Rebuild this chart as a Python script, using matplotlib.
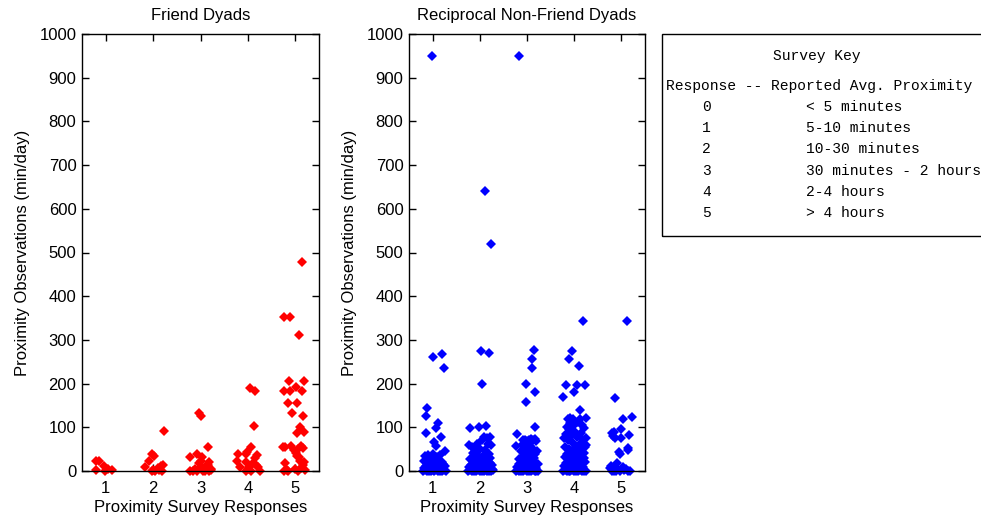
import matplotlib
matplotlib.use("Agg")
import matplotlib.pyplot as plt
from matplotlib.patches import Rectangle

plt.rcParams['font.family'] = ['Liberation Sans', 'DejaVu Sans']

# ---------------- data ----------------
categories = [1, 2, 3, 4, 5]
y_ticks = [0, 100, 200, 300, 400, 500, 600, 700, 800, 900, 1000]

# Friend dyads: jittered response position and observed minutes/day
friend_x = [0.79, 0.85, 0.79, 0.97, 0.98, 1.14, 1.05,
            2.23, 1.97, 2.01, 1.91, 1.83, 1.97, 2.04, 2.10, 2.17, 2.21, 2.13, 2.19, 2.00,
            2.97, 3.00, 3.15, 2.77, 2.92, 3.03, 3.01, 2.97, 3.18, 3.15, 2.78, 2.85, 2.93,
            3.05, 3.10, 3.18, 3.23, 3.01, 3.10, 3.22, 2.88,
            4.04, 4.15, 4.125, 4.07, 3.80, 3.97, 3.98, 4.20, 4.16, 3.77, 3.97, 4.11, 4.18,
            3.83, 4.03, 4.22, 3.97, 4.07, 4.25, 4.00,
            5.15, 4.76, 4.89, 5.08, 4.86, 5.18, 4.76, 4.88, 5.01, 5.15, 4.85, 5.04, 4.93,
            5.17, 5.10, 5.04, 5.18, 4.74, 4.79, 4.91, 5.12, 5.05, 4.98, 5.01, 5.16, 5.04,
            5.08, 4.78, 5.10, 5.19, 4.77, 4.83, 5.05, 5.12, 5.16, 4.85, 5.00, 5.20]
friend_y = [22, 22, 2, 11, 0, 2, 5,
            92, 39, 34, 22, 9, 0, 0, 7, 12, 14, 2, 0, 3,
            132, 127, 54, 31, 39, 31, 22, 18, 20, 14, 0, 0, 0,
            0, 0, 0, 2, 9, 10, 5, 5,
            191, 182, 103, 54, 39, 39, 43, 37, 30, 22, 21, 19, 14,
            9, 10, 10, 0, 0, 0, 5,
            478, 352, 352, 312, 206, 206, 184, 184, 192, 184, 156, 156, 133,
            127, 101, 86, 89, 55, 55, 57, 57, 50, 47, 41, 52, 34,
            31, 19, 22, 20, 0, 3, 0, 8, 14, 0, 5, 3]

# Reciprocal non-friend dyads
nonfriend_x = [
    # response 1
    0.99, 1.00, 1.20, 1.25, 0.89, 0.86, 0.86, 1.11, 1.08, 1.17, 1.02, 1.07, 1.26,
    0.83, 0.90, 1.01, 1.15,
    0.80, 0.84, 0.88, 0.92, 0.96, 1.00, 1.04, 1.08, 1.12, 1.16, 1.20, 1.24, 1.28,
    0.82, 0.87, 0.91, 0.95, 0.99, 1.03, 1.07, 1.11, 1.15, 1.19, 1.23, 1.27,
    0.81, 0.86, 0.93, 0.98, 1.05, 1.13, 1.21, 0.89, 1.09, 1.17, 0.94, 1.10,
    # response 2
    2.10, 2.24, 2.03, 2.20, 2.04, 1.80, 1.98, 2.13,
    1.77, 1.83, 1.95, 2.05, 2.08, 2.15, 2.22, 2.18, 2.24, 1.90, 2.00, 2.10, 2.20, 1.85, 2.12,
    1.76, 1.80, 1.84, 1.88, 1.92, 1.96, 2.00, 2.04, 2.08, 2.12, 2.16, 2.20, 2.24, 2.28,
    1.78, 1.82, 1.86, 1.90, 1.94, 1.98, 2.02, 2.06, 2.10, 2.14, 2.18, 2.22, 2.26,
    1.79, 1.85, 1.91, 1.97, 2.03, 2.09, 2.15, 2.21, 1.88, 2.00, 2.13, 2.25,
    # response 3
    2.84, 3.15, 3.10, 3.10, 2.98, 3.17, 2.98, 3.18, 2.78, 2.77,
    2.92, 2.96, 3.00, 3.04, 3.08, 3.12, 3.16, 3.20, 2.90, 2.95, 3.06, 3.13, 3.22, 2.88,
    3.00, 3.18, 2.93, 3.09,
    2.76, 2.80, 2.84, 2.88, 2.92, 2.96, 3.00, 3.04, 3.08, 3.12, 3.16, 3.20, 3.24,
    2.78, 2.83, 2.87, 2.91, 2.95, 2.99, 3.03, 3.07, 3.11, 3.15, 3.19, 3.23,
    2.82, 2.89, 2.97, 3.05, 3.14, 2.86, 3.01, 3.17, 2.94, 3.10,
    # response 4
    4.18, 3.96, 3.90, 4.10, 3.82, 4.05, 4.22, 4.00, 3.77, 4.12, 3.87, 3.92, 3.98, 4.13,
    4.25, 3.84, 4.00, 4.20,
    3.78, 3.82, 3.86, 3.90, 3.94, 3.98, 4.02, 4.06, 4.10, 4.14, 4.18, 4.22, 4.26,
    3.80, 3.88, 3.96, 4.04, 4.12, 4.20, 3.84, 4.00, 4.24, 3.92, 4.08, 4.16,
    3.76, 3.80, 3.84, 3.88, 3.92, 3.96, 4.00, 4.04, 4.08, 4.12, 4.16, 4.20, 4.24,
    3.78, 3.83, 3.87, 3.91, 3.95, 3.99, 4.03, 4.07, 4.11, 4.15, 4.19, 4.23,
    3.81, 3.89, 3.97, 4.05, 4.13, 4.21, 3.86, 4.01, 4.17,
    # response 5
    5.12, 4.87, 5.22, 5.04, 4.99, 4.80, 4.82, 4.86, 4.84, 5.00, 5.17, 5.14, 5.15,
    4.94, 4.96, 4.91, 4.78, 4.76, 4.86, 5.03, 5.13, 5.19, 4.80, 4.84, 4.89, 4.97,
    5.06, 5.10]
nonfriend_y = [
    # response 1
    950, 262, 268, 236, 145, 125, 87, 110, 99, 77, 66, 57, 46,
    35, 37, 40, 36,
    0, 2, 0, 1, 0, 3, 0, 2, 0, 1, 0, 2, 0,
    8, 12, 6, 15, 9, 18, 7, 13, 10, 20, 5, 11,
    22, 26, 19, 25, 28, 24, 17, 4, 5, 4, 30, 31,
    # response 2
    640, 520, 274, 269, 198, 98, 100, 103,
    60, 55, 62, 70, 78, 75, 77, 62, 60, 45, 50, 48, 40, 42, 38,
    0, 2, 0, 1, 0, 3, 0, 1, 0, 2, 0, 1, 0, 2,
    10, 14, 7, 18, 11, 22, 8, 16, 12, 25, 9, 19, 13,
    28, 32, 26, 35, 30, 27, 33, 29, 5, 5, 6, 5,
    # response 3
    950, 278, 256, 236, 198, 180, 157, 101, 84, 57,
    70, 72, 68, 71, 74, 70, 73, 69, 60, 55, 58, 50, 45, 45,
    48, 40, 38, 36,
    0, 2, 0, 1, 0, 3, 0, 1, 0, 2, 0, 1, 0,
    10, 15, 8, 20, 12, 25, 9, 18, 13, 22, 8, 15,
    28, 30, 33, 28, 30, 5, 5, 5, 18, 25,
    # response 4
    343, 275, 256, 240, 197, 197, 197, 180, 170, 139, 120, 122, 118, 120,
    121, 100, 105, 98,
    75, 85, 70, 95, 80, 65, 90, 78, 60, 88, 72, 55, 75,
    55, 50, 45, 55, 48, 42, 40, 42, 60, 110, 112, 105,
    0, 2, 0, 1, 0, 3, 0, 1, 0, 2, 0, 1, 0,
    12, 18, 8, 25, 14, 30, 10, 22, 15, 28, 9, 20,
    32, 35, 20, 33, 36, 30, 5, 6, 5,
    # response 5
    343, 168, 123, 120, 96, 88, 80, 75, 90, 75, 82, 52, 48,
    43, 40, 19, 11, 8, 10, 10, 0, 0, 0, 0, 0, 0,
    2, 5]

key_title = "Survey Key"
key_header = "Response -- Reported Avg. Proximity"
key_responses = ["0", "1", "2", "3", "4", "5"]
key_meanings = ["< 5 minutes", "5-10 minutes", "10-30 minutes",
                "30 minutes - 2 hours", "2-4 hours", "> 4 hours"]

# ---------------- figure ----------------
W, H = 981, 520
fig = plt.figure(figsize=(W / 100, H / 100), dpi=100)
fig.patch.set_facecolor('white')


def px_axes(x0, y0, x1, y1):
    return fig.add_axes([x0 / W, 1 - y1 / H, (x1 - x0) / W, (y1 - y0) / H])


def style(ax, title):
    ax.set_xlim(0.5, 5.5)
    ax.set_ylim(0, 1000)
    ax.set_xticks(categories)
    ax.set_yticks(y_ticks)
    ax.tick_params(direction='in', length=5, width=1, top=True, right=True,
                   labelsize=12, colors='black')
    ax.tick_params(axis='x', pad=7)
    ax.tick_params(axis='y', pad=4)
    for s in ax.spines.values():
        s.set_linewidth(1)
        s.set_color('black')
    ax.set_title(title, fontsize=12, pad=10)
    ax.set_xlabel('Proximity Survey Responses', fontsize=12, labelpad=3)
    ax.set_ylabel('Proximity Observations (min/day)', fontsize=12, labelpad=7)


ax1 = px_axes(82, 34, 319, 471)
ax1.plot(friend_x, friend_y, linestyle='none', marker='D', markersize=5,
         color='#ff0000', markeredgewidth=0, clip_on=False)
style(ax1, 'Friend Dyads')

ax2 = px_axes(409, 34, 645, 471)
ax2.plot(nonfriend_x, nonfriend_y, linestyle='none', marker='D', markersize=5,
         color='#0000ff', markeredgewidth=0, clip_on=False)
style(ax2, 'Reciprocal Non-Friend Dyads')

# ---------------- survey key ----------------
fig.patches.append(Rectangle((662 / W, 1 - 236 / H), 340 / W, 202 / H,
                             transform=fig.transFigure, fill=False,
                             edgecolor='black', linewidth=1))
mono = dict(family='Liberation Mono', fontsize=10.5, color='black', va='center')
fig.text(817 / W, 1 - 56 / H, key_title, ha='center', **mono)
fig.text(666 / W, 1 - 86 / H, key_header, ha='left', **mono)
for i, (r, m) in enumerate(zip(key_responses, key_meanings)):
    yy = 107 + i * 21.2
    fig.text(702 / W, 1 - yy / H, r, ha='left', **mono)
    fig.text(806 / W, 1 - yy / H, m, ha='left', **mono)

fig.savefig('out.png', dpi=100, facecolor='white')
